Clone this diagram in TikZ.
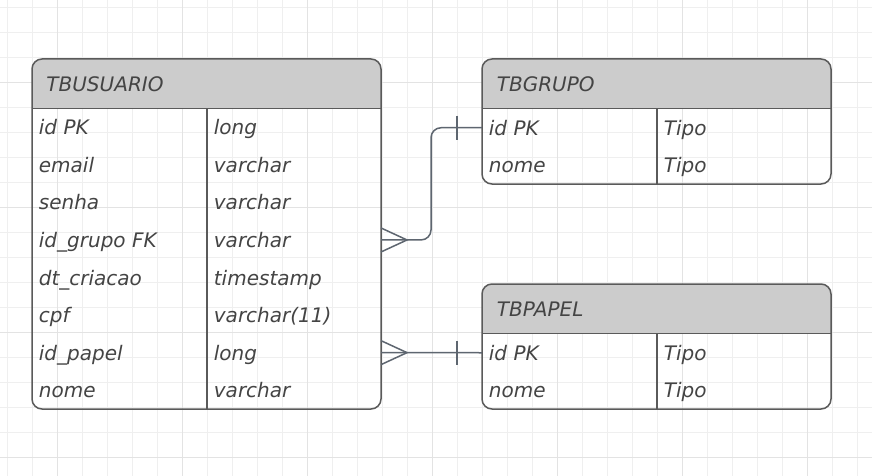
\documentclass[tikz,border=0pt]{standalone}
\usepackage{fontspec}
\setmainfont{DejaVu Sans}
\usetikzlibrary{positioning,calc}
\definecolor{gridminor}{HTML}{EFEFEF}
\definecolor{gridmajor}{HTML}{E3E3E3}
\definecolor{boxline}{HTML}{5A5A5A}
\definecolor{headfill}{HTML}{CCCCCC}
\definecolor{fieldtext}{HTML}{444444}
\definecolor{linkline}{HTML}{5E6670}

\begin{document}
\begin{tikzpicture}[x=0.5pt,y=-0.5pt,
    tbl/.style={draw=boxline,line width=0.75pt,rounded corners=5pt,anchor=north west,
        inner sep=0pt,outer sep=0pt,minimum width=174.5pt,
        path picture={\fill[headfill,sharp corners] (path picture bounding box.north west)
            rectangle ([yshift=-24.75pt]path picture bounding box.north east);}},
    sepline/.style={draw=boxline,line width=0.75pt},
    field/.style={anchor=base west,inner sep=0pt,text=fieldtext,font=\itshape\fontsize{10}{12}\selectfont},
    link/.style={draw=linkline,line width=0.75pt,rounded corners=5pt}]

    % background grid
    \useasboundingbox (0,0) rectangle (872,476);
    \fill[white] (0,0) rectangle (872,476);
    \foreach \x in {7.5,32.5,...,860} \draw[gridminor,line width=0.5pt] (\x,0) -- (\x,476);
    \foreach \y in {7.5,32.5,...,470} \draw[gridminor,line width=0.5pt] (0,\y) -- (872,\y);
    \foreach \x in {57.5,182.5,...,810} \draw[gridmajor,line width=0.5pt] (\x,0) -- (\x,476);
    \foreach \y in {82.5,207.5,...,460} \draw[gridmajor,line width=0.5pt] (0,\y) -- (872,\y);

    % tables
    \node [tbl,minimum height=175pt] (usuario) at (32,59) {};
    \node [tbl,minimum height=62.5pt] (grupo) at (482,59) {};
    \node [tbl,minimum height=62.5pt] (papel) at (482,284) {};

    \foreach \t in {usuario,grupo,papel} {
        \draw[sepline] ([yshift=-24.75pt]\t.north west) -- ([yshift=-24.75pt]\t.north east);
        \draw[sepline] ([xshift=87.5pt,yshift=-24.75pt]\t.north west) -- ([xshift=87.5pt]\t.south west);
    }

    \node [field] (usuariotitle) at ($(usuario.north west)+(14,32.7)$) {TBUSUARIO};
    \node [field] (grupotitle) at ($(grupo.north west)+(14.5,32.7)$) {TBGRUPO};
    \node [field] (papeltitle) at ($(papel.north west)+(14.5,32.7)$) {TBPAPEL};

    \foreach \name/\type [count=\i] in {id PK/long,email/varchar,senha/varchar,id\_grupo FK/varchar,
            dt\_criacao/timestamp,cpf/varchar(11),id\_papel/long,nome/varchar} {
        \coordinate (ur\i) at ($(usuario.north west)+(0,30.72+37.56*\i)$);
        \node [field] (u\i) at ($(ur\i)+(6.5,7.5)$) {\name};
        \node [field] (ut\i) at ($(ur\i)+(181.5,7.5)$) {\type};
    }
    \foreach \name/\type [count=\i] in {id PK/Tipo,nome/Tipo} {
        \coordinate (gr\i) at ($(grupo.north west)+(0,31.25+37.5*\i)$);
        \node [field] (g\i) at ($(gr\i)+(6.5,7.5)$) {\name};
        \node [field] (gt\i) at ($(gr\i)+(181.5,7.5)$) {\type};
        \coordinate (pr\i) at ($(papel.north west)+(0,31.25+37.5*\i)$);
        \node [field] (p\i) at ($(pr\i)+(6.5,7.5)$) {\name};
        \node [field] (pt\i) at ($(pr\i)+(181.5,7.5)$) {\type};
    }

    % relations
    \draw[link] (ur4 -| usuario.east) -- ++(50,0) |- (gr1);
    \draw[link] (ur7 -| usuario.east) -- (pr1);

    % crow's feet and ticks
    \foreach \r/\e in {ur4/gr1,ur7/pr1} {
        \draw[link,sharp corners] ($(\r -| usuario.east)+(0,-12)$) -- ($(\r -| usuario.east)+(26,0)$)
            -- ($(\r -| usuario.east)+(0,12)$);
        \draw[link] ($(\e)+(-25,-12)$) -- ($(\e)+(-25,12)$);
    }
\end{tikzpicture}
\end{document}
